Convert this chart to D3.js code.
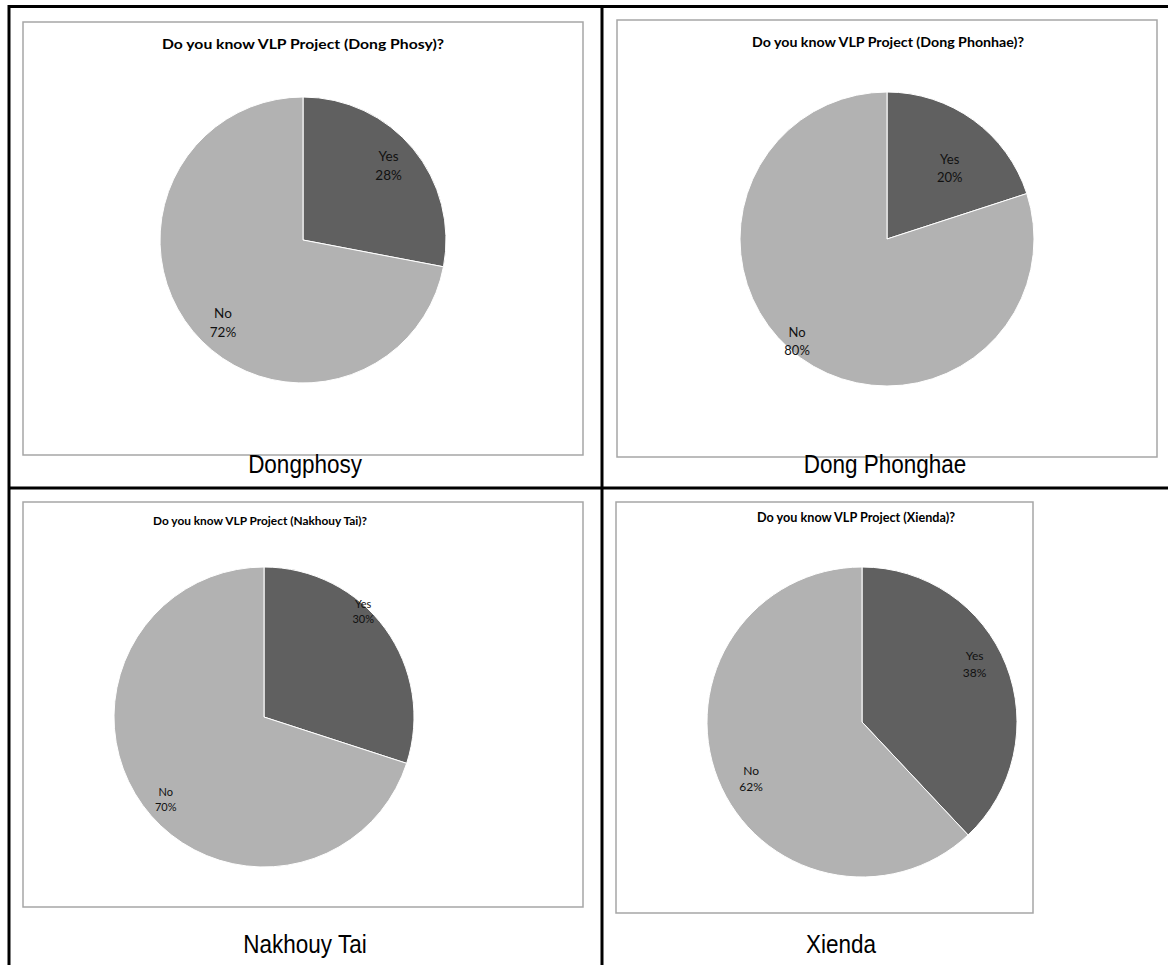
<!DOCTYPE html>
<html>
<head>
<meta charset="utf-8">
<script src="https://cdn.jsdelivr.net/npm/d3@7"></script>
<style>
  html, body { margin: 0; padding: 0; background: #fff; }
  svg { display: block; }
</style>
</head>
<body>
<svg id="chart" width="1168" height="965"></svg>
<script>
// ---- data ----
const regions = ["Dongphosy", "Dong Phonghae", "Nakhouy Tai", "Xienda"];
const chartTitles = [
  "Do you know VLP Project (Dong Phosy)?",
  "Do you know VLP Project (Dong Phonhae)?",
  "Do you know VLP Project (Nakhouy Tai)?",
  "Do you know VLP Project (Xienda)?"
];
const categories = ["Yes", "No"];
const yesShare = [28, 20, 30, 38];
const noShare = [72, 80, 70, 62];

// ---- layout of the four panels ----
const panels = [
  { box: [23, 22, 583, 455], cx: 303, cy: 240, r: 143,
    title: { x: 162, y: 49, w: 282, size: 14 },
    caption: { x: 305, y: 473 }, labelSize: 13.5,
    labels: [{ f: 0.80, da: -2 }, { f: 0.80, da: -6 }] },
  { box: [617, 20, 1157, 457], cx: 887, cy: 239, r: 147,
    title: { x: 752, y: 47, w: 272, size: 13 },
    caption: { x: 885, y: 473 }, labelSize: 13,
    labels: [{ f: 0.65, da: 5 }, { f: 0.92, da: 5.7 }] },
  { box: [23, 502, 583, 907], cx: 264, cy: 717, r: 150,
    title: { x: 153, y: 525, w: 214, size: 12 },
    caption: { x: 305, y: 953 }, labelSize: 11,
    labels: [{ f: 0.97, da: -11 }, { f: 0.85, da: -3.6 }] },
  { box: [616, 502, 1033, 913], cx: 862, cy: 722, r: 155,
    title: { x: 757, y: 522, w: 198, size: 12.5 },
    caption: { x: 841, y: 953 }, labelSize: 12,
    labels: [{ f: 0.82, da: -6 }, { f: 0.80, da: -5 }] }
];

const sliceColor = d3.scaleOrdinal().domain(categories).range(["#606060", "#b2b2b2"]);

const svg = d3.select("#chart");

// table grid lines
const grid = svg.append("g").attr("stroke", "#000").attr("stroke-width", 3);
grid.append("line").attr("x1", 8).attr("x2", 1168).attr("y1", 6.5).attr("y2", 6.5);
grid.append("line").attr("x1", 9).attr("x2", 9).attr("y1", 5).attr("y2", 965);
grid.append("line").attr("x1", 602).attr("x2", 602).attr("y1", 5).attr("y2", 965);
grid.append("line").attr("x1", 8).attr("x2", 1168).attr("y1", 488).attr("y2", 488);

const pie = d3.pie().sort(null).value(d => d.value).startAngle(0).endAngle(2 * Math.PI);

panels.forEach((p, i) => {
  const data = categories.map((c, k) => ({ cat: c, value: k === 0 ? yesShare[i] : noShare[i] }));
  const g = svg.append("g");

  // chart frame
  g.append("rect")
    .attr("x", p.box[0]).attr("y", p.box[1])
    .attr("width", p.box[2] - p.box[0]).attr("height", p.box[3] - p.box[1])
    .attr("fill", "#fff").attr("stroke", "#a6a6a6").attr("stroke-width", 1.5);

  // chart title
  g.append("text")
    .attr("x", p.title.x).attr("y", p.title.y)
    .attr("textLength", p.title.w).attr("lengthAdjust", "spacingAndGlyphs")
    .attr("font-family", "Lato, 'Open Sans', sans-serif")
    .attr("font-weight", "bold").attr("font-size", p.title.size)
    .attr("fill", "#000")
    .text(chartTitles[i]);

  const arc = d3.arc().innerRadius(0).outerRadius(p.r);
  const arcs = pie(data);
  const pg = g.append("g").attr("transform", `translate(${p.cx},${p.cy})`);

  pg.selectAll("path").data(arcs).join("path")
    .attr("d", arc)
    .attr("fill", d => sliceColor(d.data.cat))
    .attr("stroke", "#fff").attr("stroke-width", 1);

  // data labels: category and share
  arcs.forEach((a, k) => {
    const L = p.labels[k];
    const ang = (a.startAngle + a.endAngle) / 2 + L.da * Math.PI / 180;
    const rr = p.r * L.f;
    const x = rr * Math.sin(ang), y = -rr * Math.cos(ang);
    const t = pg.append("text")
      .attr("text-anchor", "middle")
      .attr("font-family", "Lato, 'Open Sans', sans-serif")
      .attr("font-size", p.labelSize)
      .attr("fill", "#111");
    t.append("tspan").attr("x", x).attr("y", y - p.labelSize * 0.25).text(a.data.cat);
    t.append("tspan").attr("x", x).attr("y", y + p.labelSize * 1.15).text(a.data.value + "%");
  });

  // cell caption
  g.append("text")
    .attr("transform", `translate(${p.caption.x},${p.caption.y}) scale(0.9,1)`)
    .attr("text-anchor", "middle")
    .attr("font-family", "'Liberation Sans', Arial, sans-serif")
    .attr("font-size", 25)
    .attr("fill", "#000")
    .text(regions[i]);
});
</script>
</body>
</html>
